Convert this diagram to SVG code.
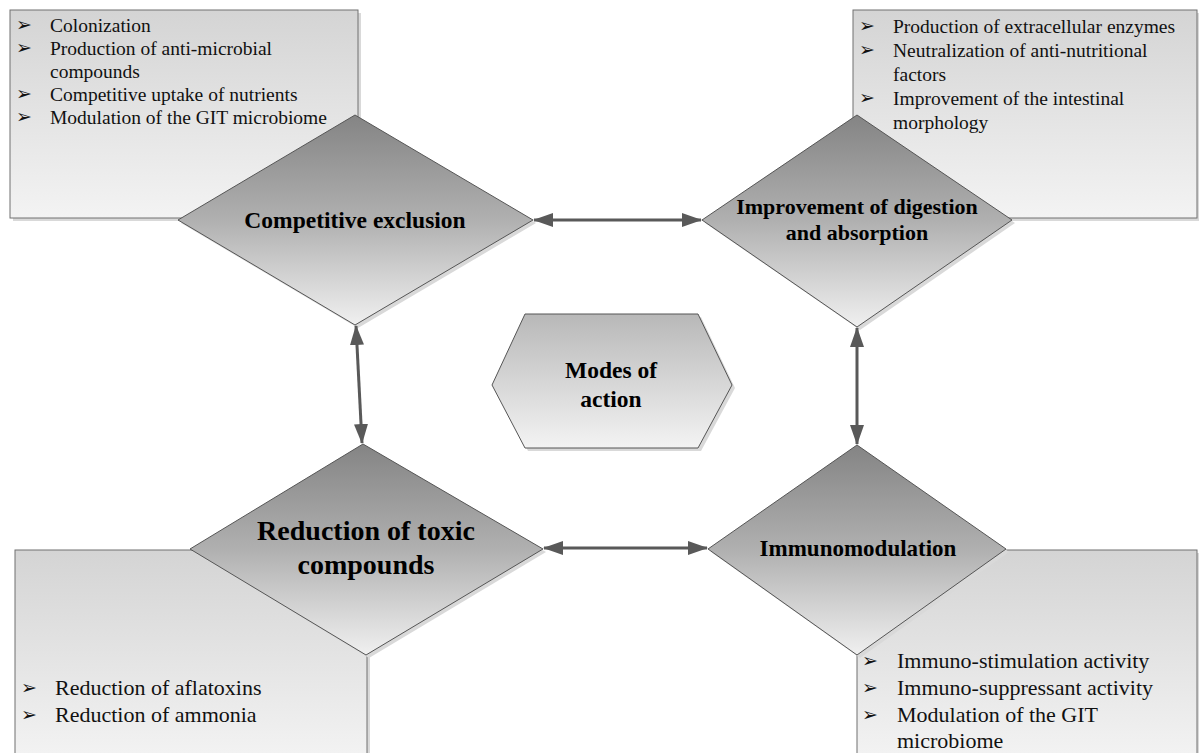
<svg xmlns="http://www.w3.org/2000/svg" width="1199" height="753" viewBox="0 0 1199 753">
<defs>
<linearGradient id="gDia" x1="0" y1="0" x2="0" y2="1"><stop offset="0" stop-color="#848484"/><stop offset="0.5" stop-color="#b0b0b0"/><stop offset="1" stop-color="#f0f0f0"/></linearGradient>
<linearGradient id="gBox" x1="0" y1="0" x2="0" y2="1"><stop offset="0" stop-color="#d4d4d4"/><stop offset="1" stop-color="#f3f3f3"/></linearGradient>
<linearGradient id="gHex" x1="0" y1="0" x2="0" y2="1"><stop offset="0" stop-color="#b8b8b8"/><stop offset="1" stop-color="#f3f3f3"/></linearGradient>
<marker id="ah" viewBox="0 0 20 14" refX="19" refY="7" markerWidth="20" markerHeight="14" markerUnits="userSpaceOnUse" orient="auto-start-reverse"><path d="M0,0 L20,7 L0,14 Z" fill="#595959"/></marker>
</defs>
<style>
.box{fill:url(#gBox);stroke:#707070;stroke-width:1}
.dia{fill:url(#gDia);stroke:#555;stroke-width:1}
.hex{fill:url(#gHex);stroke:#555;stroke-width:1}
.sh{fill:#d9d9d9;stroke:none}
text{font-family:'Liberation Serif','DejaVu Serif',serif}
.t{font-size:19.5px;fill:#111}
.tb{font-size:22px;fill:#111}
.b{font-family:'DejaVu Sans',sans-serif;font-size:19px;fill:#111}
.lbl{font-weight:bold;fill:#000;text-anchor:middle}
.con{stroke:#595959;stroke-width:3;fill:none;marker-start:url(#ah);marker-end:url(#ah)}
</style>
<rect width="1199" height="753" fill="#fff"/>

<g id="box-tl">
<rect class="sh" x="13" y="13" width="348" height="208"/>
<rect class="box" x="10" y="10" width="348" height="208"/>
<text class="b" x="16" y="31">➢</text><text class="t" x="50" y="32">Colonization</text>
<text class="b" x="16" y="54">➢</text><text class="t" x="50" y="55">Production of anti-microbial</text>
<text class="t" x="50" y="78">compounds</text>
<text class="b" x="16" y="100">➢</text><text class="t" x="50" y="101">Competitive uptake of nutrients</text>
<text class="b" x="16" y="123">➢</text><text class="t" x="50" y="124">Modulation of the GIT microbiome</text>
</g>

<g id="box-tr">
<rect class="sh" x="856" y="13" width="346" height="208"/>
<rect class="box" x="853" y="10" width="344" height="208"/>
<text class="b" x="859" y="32">➢</text><text class="t" x="893" y="33">Production of extracellular enzymes</text>
<text class="b" x="859" y="56">➢</text><text class="t" x="893" y="57">Neutralization of anti-nutritional</text>
<text class="t" x="893" y="81">factors</text>
<text class="b" x="859" y="104">➢</text><text class="t" x="893" y="105">Improvement of the intestinal</text>
<text class="t" x="893" y="129">morphology</text>
</g>

<g id="box-bl">
<rect class="sh" x="18" y="553" width="352" height="210"/>
<rect class="box" x="15" y="550" width="352" height="210"/>
<text class="b" x="21" y="694">➢</text><text class="tb" x="55" y="695">Reduction of aflatoxins</text>
<text class="b" x="21" y="721">➢</text><text class="tb" x="55" y="722">Reduction of ammonia</text>
</g>

<g id="box-br">
<rect class="sh" x="860" y="553" width="342" height="210"/>
<rect class="box" x="857" y="550" width="340" height="210"/>
<text class="b" x="862" y="667">➢</text><text class="tb" x="897" y="668">Immuno-stimulation activity</text>
<text class="b" x="862" y="694">➢</text><text class="tb" x="897" y="695">Immuno-suppressant activity</text>
<text class="b" x="862" y="721">➢</text><text class="tb" x="897" y="722">Modulation of the GIT</text>
<text class="tb" x="897" y="748">microbiome</text>
</g>

<g id="node-competitive">
<polygon class="sh" points="358,118 536,223 358,328 181,223"/>
<polygon class="dia" points="355,115 533,220 355,325 178,220"/>
<text class="lbl" x="355" y="228" font-size="23.5">Competitive exclusion</text>
</g>

<g id="node-digestion">
<polygon class="sh" points="860,118 1015,223 860,330 705,223"/>
<polygon class="dia" points="857,115 1012,220 857,327 702,220"/>
<text class="lbl" x="857" y="214" font-size="22">Improvement of digestion</text>
<text class="lbl" x="857" y="240" font-size="22">and absorption</text>
</g>

<g id="node-toxic">
<polygon class="sh" points="366,447 546,552 369,658 193,552"/>
<polygon class="dia" points="363,444 543,549 366,655 190,549"/>
<text class="lbl" x="366" y="540" font-size="28">Reduction of toxic</text>
<text class="lbl" x="366" y="574" font-size="28">compounds</text>
</g>

<g id="node-immuno">
<polygon class="sh" points="860,448 1009,552 860,658 711,552"/>
<polygon class="dia" points="857,445 1006,549 857,655 708,549"/>
<text class="lbl" x="858" y="556" font-size="23">Immunomodulation</text>
</g>

<g id="node-modes">
<polygon class="sh" points="528,317 701,317 735,388 701,451 528,451 495,388"/>
<polygon class="hex" points="525,314 698,314 732,385 698,448 525,448 492,385"/>
<text class="lbl" x="611" y="378" font-size="23.5">Modes of</text>
<text class="lbl" x="611" y="407" font-size="23.5">action</text>
</g>

<g id="connectors">
<line class="con" x1="534" y1="220" x2="701" y2="220"/>
<line class="con" x1="857" y1="328" x2="857" y2="444"/>
<line class="con" x1="356" y1="326" x2="362" y2="443"/>
<line class="con" x1="544" y1="548" x2="707" y2="548"/>
</g>
</svg>
